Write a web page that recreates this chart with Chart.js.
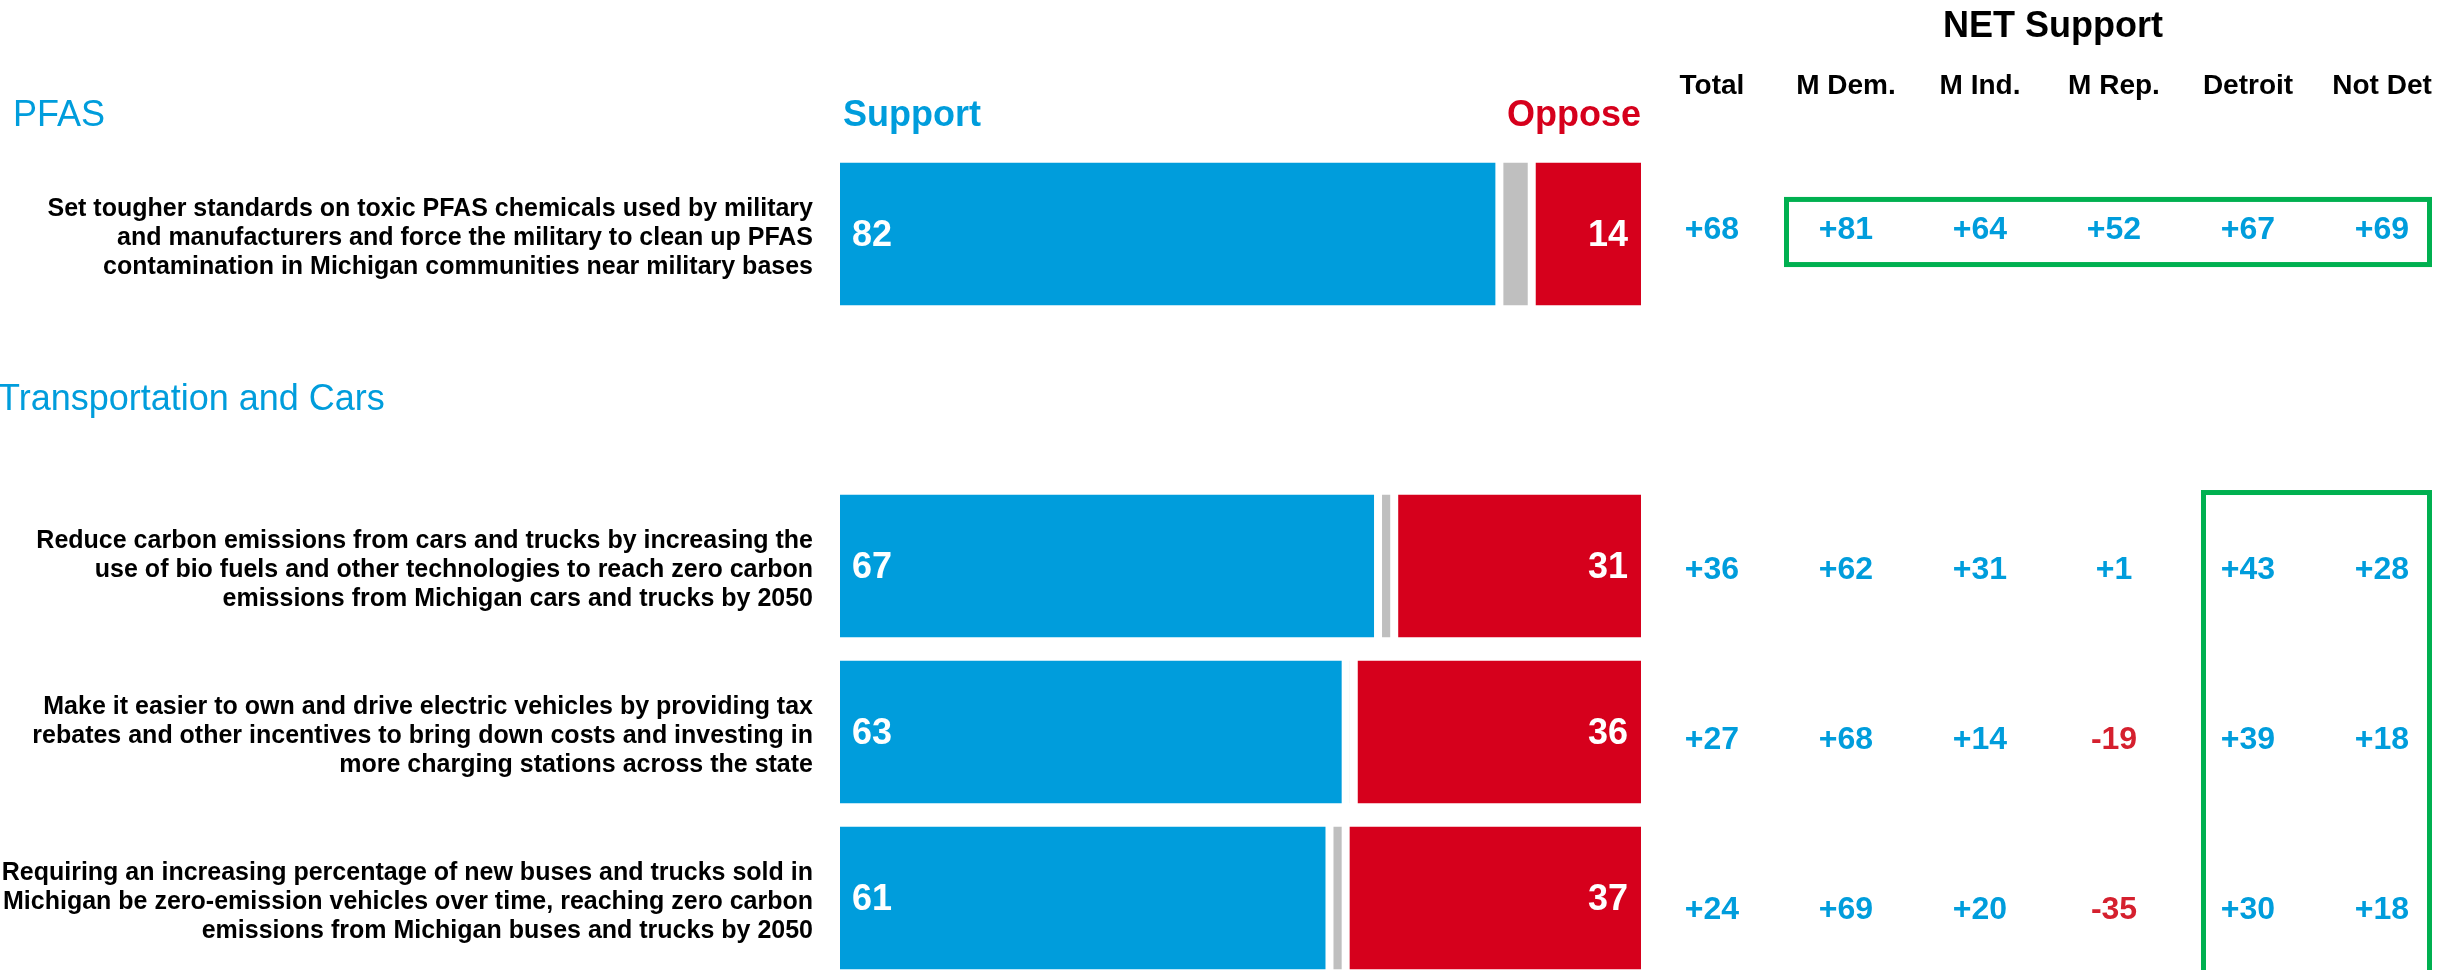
<!DOCTYPE html>
<html>
<head>
<meta charset="utf-8">
<script src="https://cdn.jsdelivr.net/npm/chart.js@4"></script>
<style>
  html, body { margin: 0; padding: 0; background: #fff; overflow: hidden; }
  #wrap { position: relative; width: 2463px; height: 990px; }
</style>
</head>
<body>
<div id="wrap"><canvas id="myChart"></canvas></div>
<script>
var questions = [
  ['Set tougher standards on toxic PFAS chemicals used by military',
   'and manufacturers and force the military to clean up PFAS',
   'contamination in Michigan communities near military bases'],
  '',
  ['Reduce carbon emissions from cars and trucks by increasing the',
   'use of bio fuels and other technologies to reach zero carbon',
   'emissions from Michigan cars and trucks by 2050'],
  ['Make it easier to own and drive electric vehicles by providing tax',
   'rebates and other incentives to bring down costs and investing in',
   'more charging stations across the state'],
  ['Requiring an increasing percentage of new buses and trucks sold in',
   'Michigan be zero-emission vehicles over time, reaching zero carbon',
   'emissions from Michigan buses and trucks by 2050']
];
var sections = ['PFAS', 'Transportation and Cars'];
var support = [82, null, 67, 63, 61];
var dontKnow = [4, null, 2, 1, 2];
var oppose = [14, null, 31, 36, 37];

var netColumns = ['Total', 'M Dem.', 'M Ind.', 'M Rep.', 'Detroit', 'Not Det'];
var netRows = [0, 2, 3, 4];
var netValues = [
  [68, 81, 64, 52, 67, 69],
  [36, 62, 31, 1, 43, 28],
  [27, 68, 14, -19, 39, 18],
  [24, 69, 20, -35, 30, 18]
];

var BLUE = '#009ddc';
var RED = '#d6001c';
var NEG = '#d5202e';
var GREEN = '#00b050';
var FONT = 'Arial, "Liberation Sans", sans-serif';

function signed(v) {
  return (v > 0 ? '+' : '') + v;
}

var overlay = {
  id: 'overlay',
  afterDatasetsDraw: function(chart) {
    var ctx = chart.ctx;
    var area = chart.chartArea;
    var y = chart.scales.y;
    // table rows are spaced a little wider than the bars
    var tableY = function(v) { return y.getPixelForValue(3 + (v - 3) * 170 / 166) + 6; };
    ctx.save();

    // bar value labels
    ctx.font = 'bold 36px ' + FONT;
    ctx.fillStyle = '#fff';
    ctx.textBaseline = 'middle';
    var sMeta = chart.getDatasetMeta(0);
    var oMeta = chart.getDatasetMeta(2);
    support.forEach(function(v, i) {
      if (v == null) return;
      var b = sMeta.data[i];
      ctx.textAlign = 'left';
      ctx.fillText(v, b.base + 16, b.y + 2);
      var r = oMeta.data[i];
      ctx.textAlign = 'right';
      ctx.fillText(oppose[i], r.x - 17, r.y + 2);
    });

    // headers above bars
    ctx.textBaseline = 'alphabetic';
    ctx.textAlign = 'left';
    ctx.fillStyle = BLUE;
    ctx.fillText('Support', area.left + 7, area.top - 25);
    ctx.textAlign = 'right';
    ctx.fillStyle = RED;
    ctx.fillText('Oppose', area.right - 4, area.top - 25);

    // section headings
    ctx.font = '36px ' + FONT;
    ctx.fillStyle = BLUE;
    ctx.textAlign = 'left';
    ctx.fillText(sections[0], 13, area.top - 25);
    ctx.fillText(sections[1], -2, y.getPixelForValue(1) + 10);

    // net support table
    var colX0 = 1712, colStep = 134;
    ctx.font = 'bold 36px ' + FONT;
    ctx.fillStyle = '#000';
    ctx.textAlign = 'center';
    ctx.fillText('NET Support', 2053, 37);
    ctx.font = 'bold 28px ' + FONT;
    netColumns.forEach(function(c, j) {
      ctx.fillText(c, colX0 + j * colStep, 94);
    });
    ctx.font = 'bold 32px ' + FONT;
    ctx.textBaseline = 'middle';
    netValues.forEach(function(row, r) {
      var py = tableY(netRows[r]);
      row.forEach(function(v, j) {
        ctx.fillStyle = v < 0 ? NEG : BLUE;
        ctx.fillText(signed(v), colX0 + j * colStep, py + 2);
      });
    });

    // highlight boxes
    ctx.strokeStyle = GREEN;
    ctx.lineWidth = 5;
    var t0 = tableY(-0.168), b0 = tableY(0.215);
    ctx.strokeRect(1786.5, t0, 2429.5 - 1786.5, b0 - t0);
    var t1 = tableY(1.556), b1 = tableY(4.8);
    ctx.strokeRect(2203.5, t1, 2429.5 - 2203.5, b1 - t1);

    ctx.restore();
  }
};

var seg = { top: 0, bottom: 0, left: 4, right: 4 };

new Chart(document.getElementById('myChart').getContext('2d'), {
  type: 'bar',
  data: {
    labels: questions,
    datasets: [{
      label: 'Support',
      data: support,
      backgroundColor: BLUE,
      borderColor: '#fff',
      borderWidth: seg,
      borderSkipped: false
    }, {
      label: "Don't know",
      data: dontKnow,
      backgroundColor: '#bfbfbf',
      borderColor: '#fff',
      borderWidth: seg,
      borderSkipped: false
    }, {
      label: 'Oppose',
      data: oppose,
      backgroundColor: RED,
      borderColor: '#fff',
      borderWidth: seg,
      borderSkipped: false
    }]
  },
  options: {
    indexAxis: 'y',
    responsive: true,
    maintainAspectRatio: false,
    animation: false,
    layout: { padding: { top: 151, right: 818, bottom: 9, left: 0 } },
    datasets: { bar: { barPercentage: 0.86, categoryPercentage: 1 } },
    plugins: {
      legend: { display: false },
      tooltip: { enabled: false }
    },
    scales: {
      x: {
        stacked: true,
        min: 0,
        max: 100,
        display: false
      },
      y: {
        stacked: true,
        grid: { display: false, drawTicks: false },
        border: { display: false },
        afterFit: function(scale) {
          scale.width = 836;
          scale.paddingTop = 0;
          scale.paddingBottom = 0;
        },
        ticks: {
          padding: 23,
          labelOffset: 4,
          color: '#000',
          font: { family: FONT, size: 25, weight: 'bold', lineHeight: 1.17 }
        }
      }
    }
  },
  plugins: [overlay]
});
</script>
</body>
</html>
